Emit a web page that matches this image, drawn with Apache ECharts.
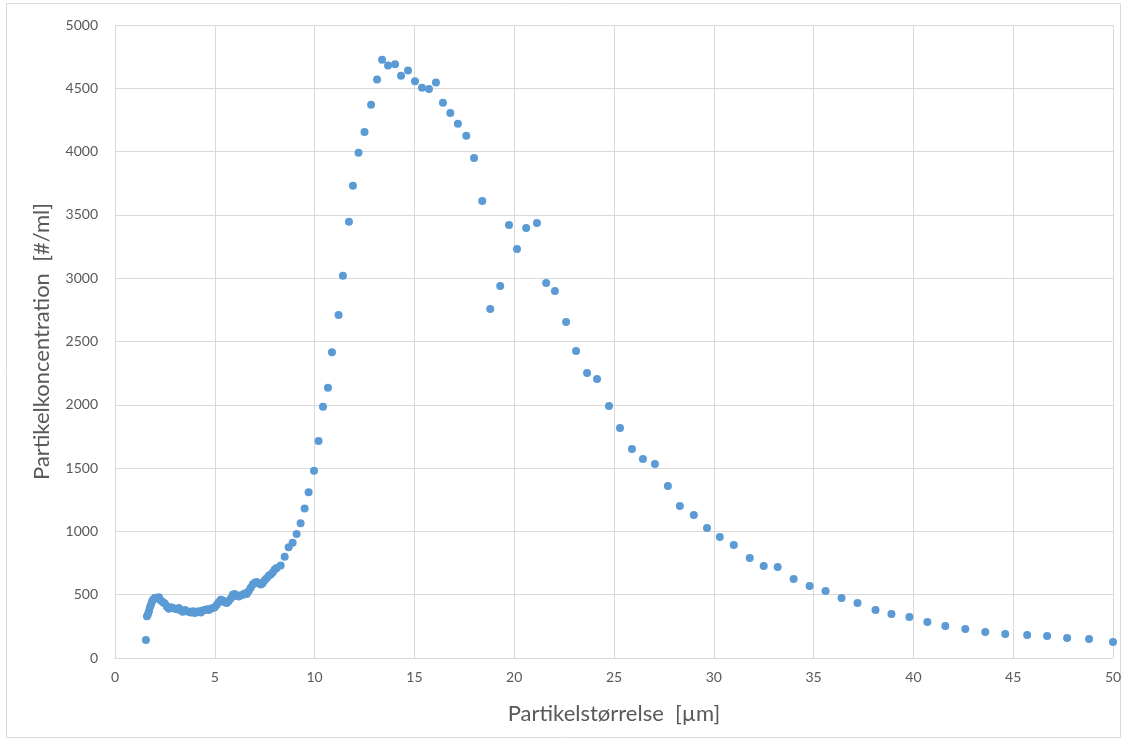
<!DOCTYPE html>
<html>
<head>
<meta charset="utf-8">
<script src="https://cdn.jsdelivr.net/npm/echarts@6/dist/echarts.min.js"></script>
<style>
html,body{margin:0;padding:0;background:#fff;}
#chart{width:1127px;height:742px;}
</style>
</head>
<body>
<div id="chart"></div>
<script>
// Particle size [µm]
const sizes = [
 1.55,1.6,1.65,1.7,1.75,1.8,1.85,1.9,2.0,2.1,2.2,2.3,2.4,2.5,2.6,2.7,2.8,2.9,3.0,3.1,3.2,3.3,3.4,3.5,3.6,3.7,3.8,3.9,4.0,
 4.1,4.2,4.3,4.4,4.5,4.6,4.7,4.8,4.9,5.0,5.1,5.2,5.3,5.4,5.5,5.6,5.7,5.8,5.9,6.0,6.1,6.2,6.3,6.4,6.5,6.6,6.7,6.8,6.9,7.0,
 7.1,7.2,7.3,7.4,7.5,7.6,7.7,7.8,7.9,8.0,8.1,8.3,8.5,8.7,8.9,9.1,9.3,9.5,9.7,9.97,10.2,10.42,10.67,10.87,11.2,11.42,11.72,11.92,
 12.2,12.5,12.83,13.13,13.38,13.68,14.03,14.33,14.68,15.03,15.38,15.73,16.08,16.43,16.8,17.18,17.6,17.99,18.4,18.8,19.3,19.74,
 20.14,20.6,21.14,21.6,22.04,22.6,23.1,23.65,24.15,24.75,25.3,25.9,26.45,27.05,27.7,28.3,29.0,29.66,30.3,31.0,31.8,32.5,33.2,
 34.0,34.8,35.6,36.4,37.2,38.1,38.9,39.8,40.7,41.6,42.6,43.6,44.6,45.7,46.7,47.7,48.8,50.0
];
// Particle concentration [#/ml]
const concentration = [
 142,330,345,370,400,420,445,460,475,470,480,455,440,430,405,390,400,395,390,385,395,375,365,380,370,365,360,370,355,
 365,370,360,375,380,385,380,390,395,400,420,440,460,455,440,435,450,470,500,505,490,485,495,500,510,505,530,555,580,595,
 600,590,580,590,615,630,650,660,675,700,710,730,800,875,910,980,1065,1180,1310,1480,1715,1985,2135,2415,2710,3020,3445,3730,
 3990,4155,4370,4570,4725,4680,4690,4600,4640,4555,4505,4495,4545,4385,4305,4220,4125,3950,3610,2757,2938,3420,
 3230,3397,3436,2962,2899,2654,2425,2251,2204,1990,1817,1651,1572,1532,1359,1201,1130,1027,956,893,790,727,719,
 624,569,530,474,434,379,348,324,284,253,229,206,190,182,174,158,150,126
];
const xTitle = 'Partikelstørrelse  [µm]';
const yTitle = 'Partikelkoncentration  [#/ml]';

const points = sizes.map((s, i) => [s, concentration[i]]);
const font = 'Lato, "Open Sans", "Liberation Sans", sans-serif';

const chart = echarts.init(document.getElementById('chart'), null, {renderer: 'canvas'});
chart.setOption({
  animation: false,
  backgroundColor: '#ffffff',
  graphic: [{
    type: 'rect',
    shape: {x: 6.5, y: 3.5, width: 1114, height: 734},
    style: {fill: 'none', stroke: '#d9d9d9', lineWidth: 1},
    silent: true, z: -1
  }],
  grid: {left: 115, right: 14, top: 25, bottom: 84, containLabel: false},
  xAxis: {
    type: 'value', min: 0, max: 50, interval: 5,
    name: xTitle, nameLocation: 'middle', nameGap: 45,
    nameTextStyle: {fontFamily: font, fontSize: 22, color: '#595959'},
    axisLine: {show: true, lineStyle: {color: '#d9d9d9', width: 1}},
    axisTick: {show: false},
    axisLabel: {fontFamily: font, fontSize: 14, color: '#595959', margin: 12},
    splitLine: {show: true, lineStyle: {color: '#d9d9d9', width: 1}}
  },
  yAxis: {
    type: 'value', min: 0, max: 5000, interval: 500,
    name: yTitle, nameLocation: 'middle', nameGap: 62, nameRotate: 90,
    nameTextStyle: {fontFamily: font, fontSize: 22, color: '#595959'},
    axisLine: {show: false},
    axisTick: {show: false},
    axisLabel: {fontFamily: font, fontSize: 14, color: '#595959', margin: 17,
      formatter: v => String(v)},
    splitLine: {show: true, lineStyle: {color: '#d9d9d9', width: 1}}
  },
  series: [{
    type: 'scatter',
    data: points,
    symbol: 'circle',
    symbolSize: 8,
    itemStyle: {color: '#5b9bd5', opacity: 1},
    clip: false
  }]
});
</script>
</body>
</html>
